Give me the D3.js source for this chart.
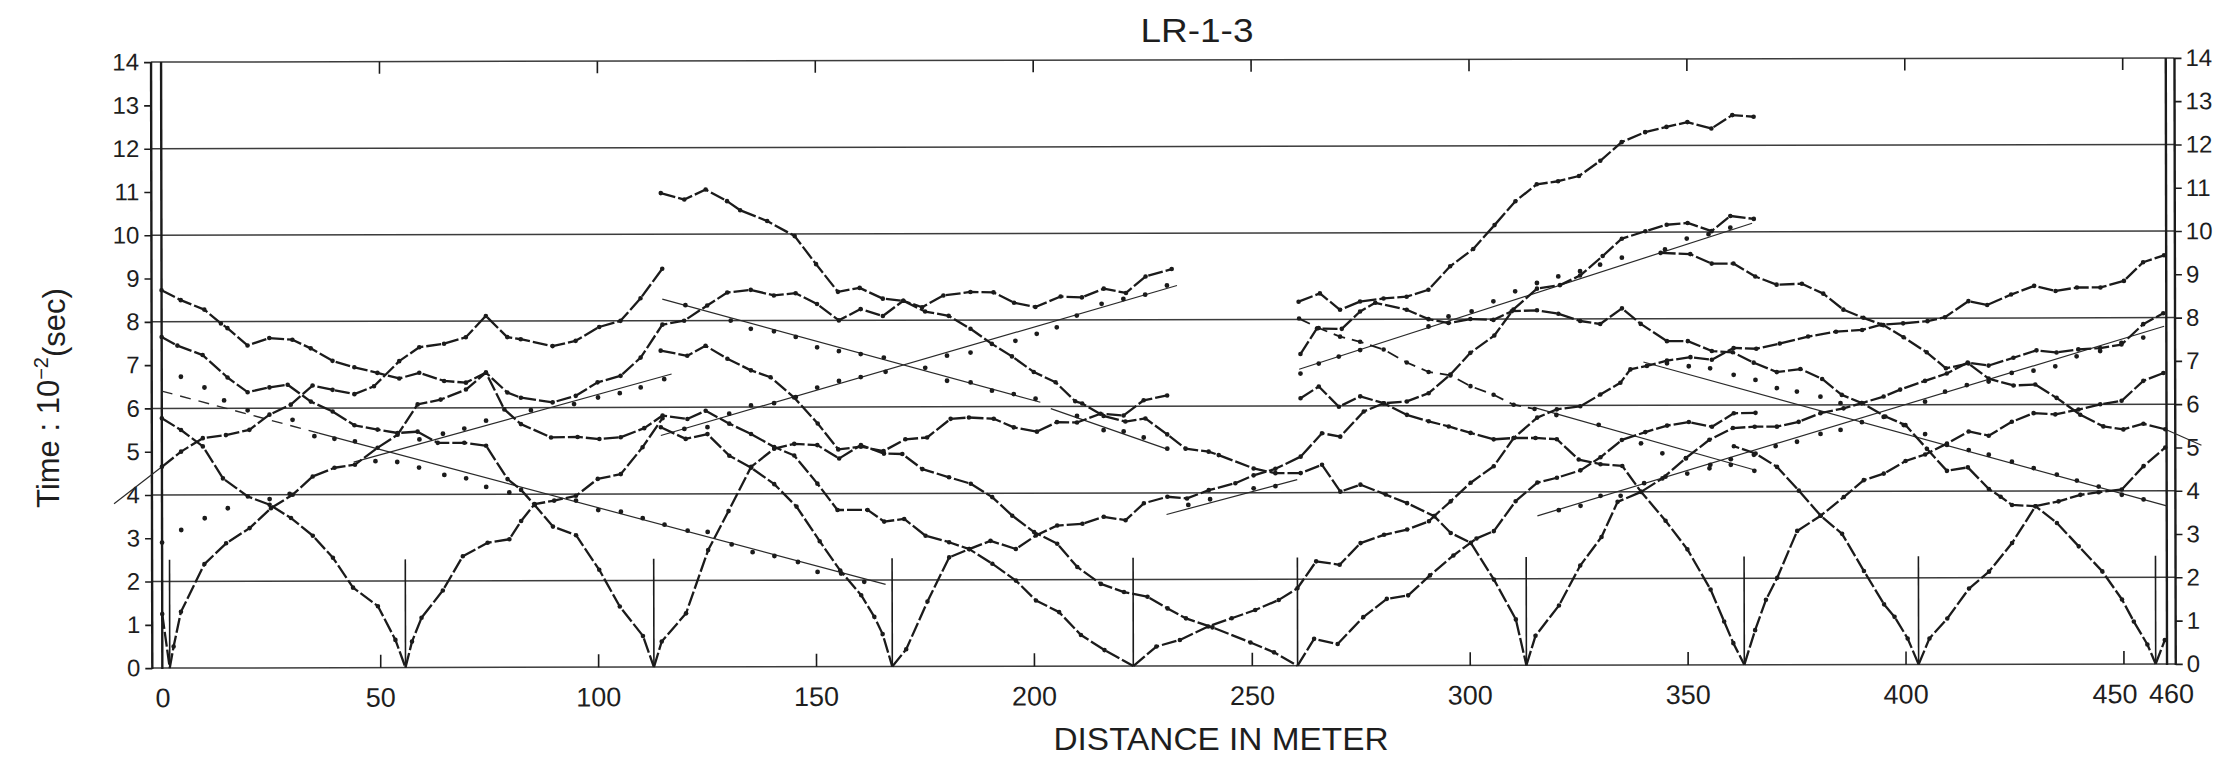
<!DOCTYPE html>
<html><head><meta charset="utf-8">
<script src="https://cdn.jsdelivr.net/npm/d3@7"></script>
<style>
html,body{margin:0;padding:0;background:#fff;}
svg{display:block;}
text{font-family:"Liberation Sans",Arial,"DejaVu Sans",sans-serif;fill:#1e1e1e;}
</style></head><body>
<svg id="chart" width="2218" height="759"></svg>
<script>
// ---------- axis values ----------
const xTickVals = [0,50,100,150,200,250,300,350,400,450,460];
const xInnerTicks = [50,100,150,200,250,300,350,400,450];
const yTickVals = [0,1,2,3,4,5,6,7,8,9,10,11,12,13,14];
const yGridVals = [0,2,4,6,8,10,12,14];
const shotPositions = [1.7,55.8,112.8,167.5,222.8,260.5,313,363,403,457.4];
const shotMarkerTop = 2.5;

// ---------- travel-time curves (distance m, time 10^-2 s) ----------
const curveS0L = [[0,1.25],[1.7,0]];
const curveS0R = [[1.7,0],[2.6,0.5],[4.3,1.3],[9.7,2.4],[14.7,2.88],[20.1,3.23],[25,3.69],[30,4],[34.6,4.42],[39.6,4.62],[44.3,4.69],[49.5,5.08],[54.1,5.38],[58.7,6.08],[64,6.19],[69.8,6.42],[74.4,6.81],[79.3,6.35],[82.4,6.23],[89.7,6.12],[95,6.27],[100,6.58],[105.3,6.73],[109.9,7.15],[114.9,7.91],[119.9,8],[125.2,8.35],[129.8,8.65],[135.2,8.71],[140.5,8.58],[145.5,8.63],[150.4,8.38],[155.4,8],[160.4,8.26],[165.5,8.1],[170.2,8.45],[174.5,8.3],[179.4,8.57],[185.6,8.65],[190.9,8.64],[195.6,8.4],[200.5,8.3],[206.3,8.54],[211.2,8.52],[216.2,8.72],[221.3,8.62],[225.8,9],[231.8,9.17]];
const curveA = [[0,8.73],[4.4,8.5],[9.8,8.28],[13.6,7.96],[15.1,7.85],[19.7,7.45],[24.7,7.62],[30,7.58],[34.2,7.38],[39.2,7.09],[44.2,6.94],[49.5,6.81],[54.5,6.68],[59.1,6.81],[64.8,6.62],[69.8,6.58],[74.4,6.81],[78.6,5.96],[82.4,5.62],[89.3,5.31],[95.4,5.32],[100.4,5.27],[105.3,5.31],[110.7,5.52],[114.9,5.81],[120.6,5.73],[124.8,5.92],[130.2,5.62],[135.2,5.38],[140.5,5.08],[145.1,4.88],[150.4,4.23],[155,3.62],[161.9,3.62],[165.7,3.35],[170.3,3.41],[175.2,3.02],[180.6,2.87],[185.2,2.71],[190.5,2.37],[195.9,1.98],[200.5,1.52],[205.8,1.25],[210.8,0.72],[216.2,0.37],[222.8,0]];
const curveB = [[0,7.65],[3.6,7.45],[9.4,7.23],[15.1,6.71],[19.7,6.37],[24.7,6.48],[28.9,6.54],[34.2,6.15],[39.2,5.92],[44.2,5.6],[49.5,5.5],[54.1,5.42],[58.7,5.45],[63.3,5.19],[69.4,5.19],[74.4,5.12],[79.3,4.35],[82.4,4.1],[85.5,3.75],[89.7,3.25],[95,3.05],[100.3,2.25],[105,1.4],[110.3,0.72],[112.8,0]];
const curveC = [[0,5.77],[4.4,5.5],[9.4,5.12],[14,4.38],[19.7,3.96],[24.7,3.77],[29.6,3.46],[34.6,3.05],[39.2,2.54],[43.8,1.85],[49.5,1.42],[53.5,0.64],[55.8,0]];
const curveS56R = [[55.8,0],[57.3,0.6],[59.5,1.15],[64.4,1.78],[69,2.57],[74.7,2.88],[79.7,2.96],[82.4,3.38],[85.5,3.77],[90,3.85],[95,3.96],[100,4.35],[105.3,4.46],[110.3,5.08],[114.9,5.75]];
const curveD = [[0,4.65],[4.4,5],[9.4,5.31],[14.7,5.38],[20.1,5.5],[24.7,5.85],[29.6,6.08],[34.6,6.52],[39.2,6.42],[44.2,6.32],[48.7,6.5],[54.5,7.08],[59.1,7.4],[64.8,7.48],[69.8,7.63],[74.4,8.12],[79.3,7.63],[82.4,7.58],[89.7,7.42],[95,7.54],[100.4,7.86],[105.3,8],[109.9,8.52],[114.9,9.2]];
const curveS113R = [[112.8,0],[114.6,0.59],[120.2,1.24],[125.3,2.7],[130,3.6],[135.2,4.62],[140.5,5.04],[145.1,5.15],[150.4,5.12],[155.4,4.81],[160.4,5.12],[165.7,4.92],[169.9,4.91],[174.5,4.56],[180.6,4.37],[185.6,4.22],[190.5,3.91],[195.1,3.48],[200.1,3.1],[205.4,2.83],[210,2.29],[215.4,1.9],[220.7,1.71],[226.1,1.6],[230.7,1.33],[234.9,1.1],[241,0.89],[249.7,0.54],[255.1,0.31],[260.5,0]];
const curveS167L = [[114.5,5.54],[120.2,5.27],[125.2,5.38],[130.2,4.88],[135.2,4.6],[140.5,4.22],[145.6,3.7],[150.9,2.9],[155.6,2.22],[160.4,1.65],[163.4,1.15],[165.3,0.75],[167.5,0]];
const curveS167R = [[167.5,0],[170.7,0.4],[175.6,1.5],[180.6,2.52],[185.2,2.71],[190.1,2.9],[195.9,2.71],[200.5,3.02],[205.4,3.25],[211.2,3.29],[216.1,3.45],[221.1,3.37],[225.3,3.76],[230.7,3.91],[235.2,3.87],[240.2,4.06],[246.3,4.22],[250.5,4.4],[255.5,4.55],[261.3,4.83],[266.2,5.37],[270.4,5.29],[275.8,5.87],[280.4,6.06],[285.7,6.1],[290.7,6.29],[295.7,6.72],[300.3,7.22],[305.8,7.62],[310.2,8.22],[315.6,8.7],[320.9,8.78],[325.5,9],[330.7,9.45],[335.1,9.85],[340.5,10.02],[345.4,10.17],[350.2,10.21],[355.7,10.02],[360,10.37],[365.4,10.3]];
const curveF = [[114.6,10.95],[120,10.8],[124.9,11.03],[129.8,10.76],[132.8,10.55],[139,10.3],[145.3,9.95],[150.2,9.3],[155.2,8.66],[160.2,8.75],[165.5,8.5],[170.2,8.45],[175.2,8.2],[180.6,8.1],[185.6,7.8],[190.5,7.45],[195.1,7.16],[200.1,6.8],[205.1,6.56],[209.6,6.12],[211.2,6.07],[216.1,5.78],[221.1,5.65],[225.7,5.72],[230.7,5.35],[234.9,5.02],[240.2,4.95],[242.5,4.87],[250.5,4.56],[255.5,4.45],[261.3,4.45],[266.2,4.64],[270.4,4.02],[275,4.18],[280.8,3.95],[285.7,3.75],[291.9,3.45],[295.7,3.06],[300.3,2.83],[305.6,1.98],[310.6,1.06],[313,0]];
const curveE = [[114.5,7.31],[120.6,7.19],[124.8,7.42],[129.8,7.12],[135.2,6.85],[139.7,6.69],[145.1,6.22],[150.5,5.62],[155.2,5.02],[160.4,5.08],[165.6,4.98],[170.6,5.25],[175.6,5.29],[181,5.72],[185.2,5.75],[190.9,5.72],[195.5,5.52],[200.8,5.42],[205.4,5.64],[210,5.63],[215.4,5.83],[220.7,5.79],[225.3,6.14],[230.7,6.25]];
const curveH = [[260.9,8.41],[265.8,8.6],[270.4,8.22],[275,8.41],[280.4,8.48],[285.7,8.52],[290.7,8.68],[295.7,9.22],[301,9.62],[305.9,10.17],[310.7,10.72],[315.6,11.11],[320.5,11.18],[325.3,11.3],[330.2,11.65],[335.1,12.08],[340.5,12.31],[345.4,12.43],[350.2,12.54],[355.7,12.39],[360.5,12.7],[365.4,12.66]];
const curveJ = [[261.3,7.2],[265.1,7.79],[270.8,7.78],[275,8.18],[278.5,8.38],[285.7,8.22],[290.7,8],[295.3,7.91],[300.3,8],[305.6,7.98],[309.8,8.18],[315.6,8.2],[320.5,8.12],[325.5,7.95],[330.1,7.88],[335.1,8.24],[339.4,7.88],[345.4,7.48],[350.2,7.48],[355.7,7.25],[360.5,7.22],[365.3,6.98],[370.6,6.76],[376,6.83],[381,6.6],[385.5,6.23],[390.1,6.04],[395.5,5.73],[400.1,5.53],[405,4.98],[409.6,4.47],[414.4,4.55],[419.2,4.05],[421.9,3.87],[424.5,3.68],[429.9,3.65],[434.8,3.26],[439.8,2.72],[445.2,2.14],[449.7,1.49],[452.4,0.98],[455.5,0.45],[457.4,0]];
const curveM = [[344,9.52],[350.8,9.49],[355.7,9.27],[360.7,9.27],[365.7,8.97],[370.6,8.78],[376.4,8.8],[381.3,8.57],[385.9,8.2],[390.5,8.01],[395.1,7.84],[399.7,7.56],[405,7.21],[409.4,6.84],[414.6,6.95],[419.2,6.6],[424.9,6.44],[429.9,6.46],[434.8,6.15],[440.2,5.76],[445.5,5.49],[450.1,5.42],[454.7,5.55],[459.7,5.42]];
const curveS222R = [[222.8,0],[228.1,0.45],[233.5,0.6],[240,0.91],[245.4,1.1],[250.8,1.29],[256.2,1.52],[260.5,1.79],[264.8,2.41],[270.2,2.33],[275,2.83],[280.4,3.02],[285.7,3.14],[290.7,3.33],[291.9,3.45],[295.7,3.79],[300.3,4.22],[305.6,4.6],[310.2,5.25],[315.6,5.72],[320.1,5.91],[325.5,5.98],[330.1,6.25],[334.7,6.52],[337,6.83],[340.8,6.91],[345.4,7.03],[350.8,7.11],[355.7,7.05],[360.7,7.32],[365.9,7.3],[371.3,7.42],[377.8,7.58],[384.2,7.69],[390.2,7.73],[394.6,7.85],[399.6,7.88],[405.2,7.93],[409.2,8.02],[414.6,8.39],[418.9,8.3],[424.4,8.54],[429.7,8.74],[434.6,8.62],[439.5,8.7],[444.9,8.7],[450.3,8.85],[454.7,9.28],[459.5,9.44]];
const curveS260R = [[260.5,0],[264.3,0.62],[269.7,0.5],[275.6,1.12],[281,1.54],[285.9,1.62],[290.9,2.08],[296.3,2.54],[301.6,2.93],[305.6,3.1],[310.6,3.79],[315.6,4.22],[320.1,4.33],[325.5,4.5],[330.1,4.8],[335,5.2],[340.4,5.38],[345.4,5.53],[350.4,5.61],[355.7,5.5],[360.7,5.81],[365.7,5.82]];
const curveP = [[261.3,6.18],[265.5,6.45],[270.1,5.98],[275,6.22],[280.4,6.06],[285.7,5.79],[290.7,5.64],[295.3,5.52],[300.3,5.37],[305.6,5.22],[310.2,5.25],[315.2,5.25],[320.1,5.22],[325.1,4.75],[330.1,4.64],[335.1,4.6],[339.4,4],[345,3.33],[350,2.67],[355.3,1.74],[358.4,1],[360.5,0.5],[363,0]];
const curveS313R = [[313,0],[315.1,0.68],[320.5,1.38],[325.4,2.3],[330.3,2.96],[334,3.77],[339.4,4],[344.3,4.31],[349.7,4.78],[355.1,5.2],[360.5,5.47],[365.5,5.5],[370.6,5.5],[375.6,5.61],[380.6,5.81],[385.9,5.92],[390.1,6.04],[395.1,6.19],[398.9,6.35],[404.6,6.55],[409.6,6.72],[414.4,6.97],[419.2,6.9],[424.9,7.08],[430.2,7.25],[434.8,7.2],[439.8,7.27],[444.8,7.3],[449.7,7.38],[454.7,7.85],[459.3,8.1]];
const curveS363R = [[363,0],[365.5,0.8],[368,1.5],[370.6,2.01],[375.2,3.09],[380.6,3.44],[385.9,3.87],[390.5,4.26],[395.1,4.41],[400.1,4.7],[404.6,4.85],[409.6,5.1],[414.6,5.38],[419.2,5.28],[424.5,5.6],[429.5,5.8],[434.5,5.77],[439.8,5.88],[444.8,6],[449.7,6.08],[454.7,6.54],[459.3,6.72]];
const curveS403L = [[403,0],[400.5,0.6],[397.5,1.1],[395.1,1.39],[390.5,2.16],[385.5,3.02],[380.6,3.44],[375.6,4.02],[370.6,4.57],[365.7,4.88],[360.7,5.05]];
const curveS403R = [[403,0],[405.5,0.6],[409.6,1.06],[414.6,1.75],[419.2,2.14],[424.5,2.8],[429.9,3.65],[435.2,3.76],[440.2,3.91],[444.4,3.97],[449.7,4.03],[454.7,4.57],[459.7,5]];
const curveS457R = [[457.4,0],[459.5,0.55]];
const curveK = [[261,8.02],[265.5,7.8],[270.4,7.6],[275,7.48],[280.4,7.3],[285.7,7],[290.7,6.78],[295.7,6.7],[300.3,6.45],[305.6,6.25],[310.2,6.02],[315,5.92]];

// thin extension lines past the axes
const extLeft = [[-11,3.8],[0,4.65]];
const extRight = [[459.7,5.42],[468,5.05]];

// ---------- fitted straight lines and their scatter points ----------
const fitR1dash = [[0,6.4],[36,5.42]];
const fitR1 = [[36,5.42],[166,1.9]];
const fitR2 = [[44,4.75],[117,6.77]];
const fitR3 = [[114.9,8.5],[201.6,6.1]];
const fitR4 = [[204,5.95],[231,5]];
const fitR5 = [[114.5,5.35],[233,8.79]];
const fitR6 = [[230.5,3.5],[260.5,4.3]];
const fitR8 = [[261,6.85],[365,10.2]];
const fitR10 = [[315,5.95],[365.5,4.5]];
const fitR12 = [[315.6,3.45],[459.5,7.8]];
const fitR13 = [[340,7],[460,3.65]];

const dotsR1 = [[4.4,6.73],[9.8,6.48],[14.3,6.18],[19.7,5.95],[30,5.73],[35,5.35],[39.6,5.29],[44.3,5.23],[59,4.62],[64.8,4.45],[69.8,4.37],[74.4,4.17],[79.7,4.04],[95,3.85],[100.1,3.63],[105.3,3.59],[110.3,3.44],[115.3,3.29],[120.6,3.15],[125.2,3.12],[130.7,2.83],[135.5,2.65],[140.5,2.56],[145.9,2.42],[150.4,2.19],[155.8,2.15],[161.1,1.96]];
const dotsR2 = [[4.4,3.19],[9.8,3.46],[15.1,3.69],[24.7,3.9],[29.3,4.02],[49,4.77],[54,4.75],[59.1,5.27],[64.5,5.4],[69.4,5.52],[74.4,5.7],[84.7,5.94],[94.6,6.08],[100.1,6.23],[105.1,6.33],[109.9,6.46],[115.3,6.65]];
const dotsR3 = [[120.2,8.36],[130.6,8],[135.2,7.81],[140.5,7.75],[145.5,7.62],[150.4,7.38],[155.4,7.29],[160.4,7.22],[165.7,7.14],[180.2,6.6],[185.6,6.56],[190.5,6.37],[195.5,6.29],[200.5,6.18]];
const dotsR4 = [[210,5.78],[216.1,5.45],[220.7,5.42],[225.3,5.28],[230.7,5.02]];
const dotsR5 = [[119.9,5.5],[125.2,5.54],[130.2,5.85],[135.2,6.04],[140.5,6.09],[145.5,6.23],[150.4,6.45],[155.4,6.6],[160.4,6.69],[166.1,6.81],[175.2,6.9],[180.2,7.18],[185.6,7.25],[195.9,7.52],[200.8,7.68],[205.4,7.83],[210,8.1],[215.7,8.37],[220.7,8.48],[225.7,8.58],[230.7,8.79]];
const dotsR6 = [[235.5,3.72],[240.5,3.85],[250.5,4.1],[255.5,4.15]];
const dotsR8 = [[261.3,6.75],[265.5,6.98],[270.1,7.14],[275,7.29],[290.7,7.83],[295.3,8.06],[300.6,8.18],[305.6,8.41],[310.6,8.64],[315.6,8.83],[320.5,8.98],[325.5,9.1],[330.1,9.25],[335.1,9.41],[345,9.6],[350,9.85],[355,9.95],[360,10.1]];
const dotsR10 = [[320,5.78],[329.7,5.55],[339.4,5.12],[344.3,4.89],[349.7,4.77],[355.1,4.54],[360,4.62],[365.4,4.48]];
const dotsR12 = [[320.5,3.58],[325.5,3.68],[330.1,3.91],[334.7,3.91],[340.1,4.2],[345,4.35],[350,4.42],[355.3,4.62],[360,4.75],[365.3,4.85],[370.3,5.05],[375.2,5.15],[380.6,5.33],[385.2,5.42],[390.1,5.6],[395.1,5.72],[404.6,6.07],[409.2,6.3],[414.2,6.45],[419.2,6.53],[424.5,6.73],[429.5,6.78],[434.5,6.88],[439.4,7.11],[444.8,7.23],[449.7,7.42],[454.7,7.54]];
const dotsR13 = [[345.4,6.97],[350.4,6.9],[355.3,6.85],[360.7,6.7],[365.7,6.58],[370.6,6.39],[375.2,6.31],[380.6,6.19],[385.2,6.04],[399.7,5.53],[404.6,5.32],[409.6,5.07],[414.6,4.95],[419.2,4.84],[424.5,4.68],[429.5,4.53],[434.8,4.38],[439.4,4.24],[444.4,4.1],[449.7,3.91],[454.7,3.8]];
const dotsLoose = [[0,2.9]];

// label nudges for the crowded 450 / 460 pair (pixels)
const xLabelNudge = {450: -9, 460: 4};

// ---------- drawing ----------
const svg = d3.select('#chart');
const x = d3.scaleLinear().domain([0,460]).range([161.7,2166.4]);
const y = d3.scaleLinear().domain([0,14]).range([666,60]);
const ink = '#1b1b1b';

const g = svg.append('g').attr('transform','rotate(-0.12,1164,363)');

// horizontal grid lines
g.append('g').selectAll('line').data(yGridVals).join('line')
  .attr('x1', x(-2.3)).attr('x2', x(462))
  .attr('y1', d => y(d)).attr('y2', d => y(d))
  .attr('stroke', '#3c3c3c').attr('stroke-width', 1.5);

// double vertical frame lines
[-2.3, 0, 460, 462].forEach(v => {
  g.append('line').attr('x1', x(v)).attr('x2', x(v))
    .attr('y1', y(14)).attr('y2', y(0) + 1)
    .attr('stroke', ink).attr('stroke-width', 2.4);
});

// left axis
const axL = g.append('g').attr('transform', `translate(${x(-2.3)},0)`)
  .call(d3.axisLeft(y).tickValues(yTickVals).tickSize(7).tickPadding(5).tickFormat(d3.format('d')));
// right axis
const axR = g.append('g').attr('transform', `translate(${x(462)},0)`)
  .call(d3.axisRight(y).tickValues(yTickVals).tickSize(7).tickPadding(4).tickFormat(d3.format('d')));
// bottom labels
const axB = g.append('g').attr('transform', `translate(0,${y(0)})`)
  .call(d3.axisBottom(x).tickValues(xTickVals).tickSize(0).tickPadding(20).tickFormat(d3.format('d')));
// inner ticks bottom/top
const axBi = g.append('g').attr('transform', `translate(0,${y(0)})`)
  .call(d3.axisBottom(x).tickValues(xInnerTicks).tickSize(-13).tickFormat(''));
const axTi = g.append('g').attr('transform', `translate(0,${y(14)})`)
  .call(d3.axisTop(x).tickValues(xInnerTicks).tickSize(-12).tickFormat(''));

[axL, axR, axB, axBi, axTi].forEach(a => {
  a.select('.domain').remove();
  a.selectAll('line').attr('stroke', ink).attr('stroke-width', 1.6);
  a.selectAll('text').attr('fill', '#1e1e1e')
    .style('font-family', '"Liberation Sans", Arial, sans-serif');
});
axL.selectAll('text').style('font-size', '24px');
axR.selectAll('text').style('font-size', '24px');
axB.selectAll('text').style('font-size', '27px')
  .attr('dx', d => xLabelNudge[d] || 0);

// shot markers
g.append('g').selectAll('line').data(shotPositions).join('line')
  .attr('x1', d => x(d)).attr('x2', d => x(d))
  .attr('y1', y(0)).attr('y2', y(shotMarkerTop))
  .attr('stroke', ink).attr('stroke-width', 1.6);

const line = d3.line().x(d => x(d[0])).y(d => y(d[1]));

// thin fitted lines
const fits = [fitR1, fitR2, fitR3, fitR4, fitR5, fitR6, fitR8, fitR10, fitR12, fitR13, extLeft, extRight];
g.append('g').selectAll('path').data(fits).join('path')
  .attr('d', line).attr('fill', 'none').attr('stroke', '#2a2a2a').attr('stroke-width', 1.2);
g.append('path').attr('d', line(fitR1dash)).attr('fill','none')
  .attr('stroke','#2a2a2a').attr('stroke-width',1.4).attr('stroke-dasharray','11 8');

// scatter points for fits
const allDots = [].concat(dotsR1, dotsR2, dotsR3, dotsR4, dotsR5, dotsR6, dotsR8, dotsR10, dotsR12, dotsR13, dotsLoose);
g.append('g').selectAll('circle').data(allDots).join('circle')
  .attr('cx', d => x(d[0])).attr('cy', d => y(d[1])).attr('r', 2.4).attr('fill', ink);

// travel-time curves (dash-dot plotter style)
const curves = [curveS0L, curveS0R, curveA, curveB, curveC, curveS56R, curveD, curveS113R, curveS167L, curveS167R,
  curveF, curveE, curveH, curveJ, curveM, curveS222R, curveS260R, curveP, curveS313R, curveS363R, curveS403L,
  curveS403R, curveS457R];
const cg = g.append('g');
cg.selectAll('path').data(curves).join('path')
  .attr('d', line).attr('fill', 'none').attr('stroke', ink).attr('stroke-width', 2.3)
  .attr('stroke-dasharray', '15 3').attr('stroke-linejoin', 'round');
cg.append('path').attr('d', line(curveK)).attr('fill', 'none').attr('stroke', ink)
  .attr('stroke-width', 1.8).attr('stroke-dasharray', '12 7');
const vertices = [].concat(...curves.map(c => c.filter(p => p[1] > 0.05)), curveK);
cg.append('g').selectAll('circle').data(vertices).join('circle')
  .attr('cx', d => x(d[0])).attr('cy', d => y(d[1])).attr('r', 2.3).attr('fill', ink);

// titles
svg.append('text').attr('x', 1197).attr('y', 42).attr('text-anchor', 'middle')
  .style('font-size', '34px').attr('textLength', 113).attr('lengthAdjust', 'spacingAndGlyphs').text('LR-1-3');
svg.append('text').attr('x', 1221).attr('y', 750).attr('text-anchor', 'middle')
  .style('font-size', '31px').attr('textLength', 335).attr('lengthAdjust', 'spacingAndGlyphs').text('DISTANCE IN METER');
const yt = svg.append('text').attr('transform', 'translate(59,398) rotate(-90)').attr('text-anchor', 'middle')
  .style('font-size', '31px');
yt.append('tspan').text('Time : 10');
yt.append('tspan').attr('dy', '-0.55em').style('font-size', '20px').text('\u22122');
yt.append('tspan').attr('dy', '0.55em').text('(sec)');
</script></body></html>
